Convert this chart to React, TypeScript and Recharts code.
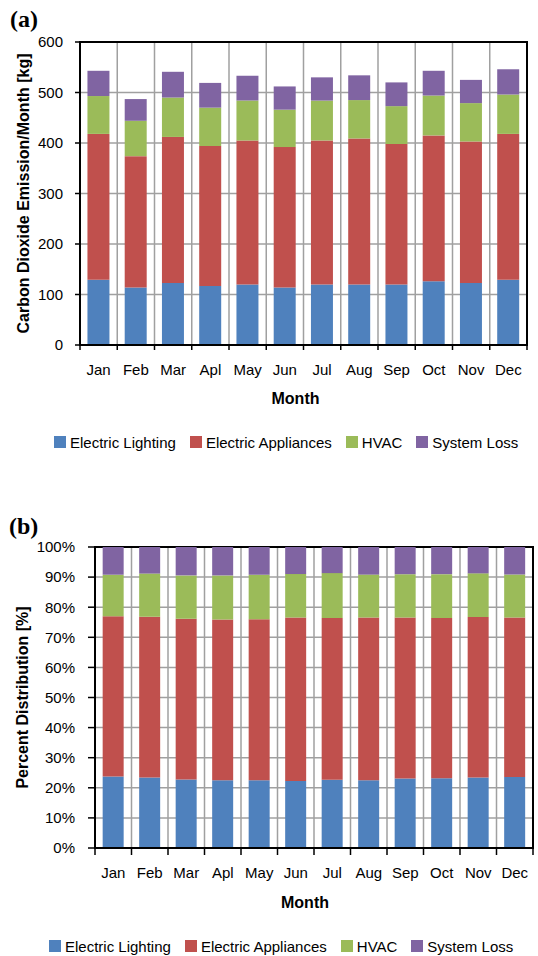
import React from 'react';
import { BarChart, Bar, XAxis, YAxis, CartesianGrid, Legend, ReferenceArea } from 'recharts';

const MONTHS = ['Jan', 'Feb', 'Mar', 'Apl', 'May', 'Jun', 'Jul', 'Aug', 'Sep', 'Oct', 'Nov', 'Dec'];

// monthly CO2 emission per end use [kg]
const LIGHTING = [129, 114, 123, 117, 120, 114, 120, 120, 120, 126, 123, 129];
const APPLIANCES = [289, 260, 289, 277, 285, 278, 285, 289, 278, 289, 280, 289];
const HVAC = [75, 70, 78, 76, 79, 74, 79, 76, 75, 79, 76, 78];
const SYSTEM_LOSS = [50, 43, 51, 49, 49, 46, 46, 49, 47, 49, 46, 50];

const KG_TICKS = [0, 100, 200, 300, 400, 500, 600];
const PCT_TICKS = [0, 0.1, 0.2, 0.3, 0.4, 0.5, 0.6, 0.7, 0.8, 0.9, 1];

const SERIES = [
  { key: 'lighting', name: 'Electric Lighting', color: '#4F81BD' },
  { key: 'appliances', name: 'Electric Appliances', color: '#C0504D' },
  { key: 'hvac', name: 'HVAC', color: '#9BBB59' },
  { key: 'loss', name: 'System Loss', color: '#8064A2' },
];

const rows = MONTHS.map((month, i) => ({
  month,
  lighting: LIGHTING[i],
  appliances: APPLIANCES[i],
  hvac: HVAC[i],
  loss: SYSTEM_LOSS[i],
}));

const W = 538;
const H = 478;
const FONT = "'Liberation Sans', Arial, sans-serif";
const LABEL_SIZE = 15;
const TITLE_SIZE = 16;
const GRID = '#a0a0a0';

// x tick: month name centred in the band, tick mark on the band's left edge
const monthTick = (tickLen: number, gap: number, band: number) => (props: any) => {
  const { x, y, payload, index } = props;
  const axisY = y - tickLen - gap;
  const left = x - band / 2;
  return (
    <g>
      <line x1={left} x2={left} y1={axisY} y2={axisY + tickLen} stroke="#000" strokeWidth={1.5} />
      {index === MONTHS.length - 1 && (
        <line x1={left + band} x2={left + band} y1={axisY} y2={axisY + tickLen} stroke="#000" strokeWidth={1.5} />
      )}
      <text x={x} y={y} dy="0.71em" textAnchor="middle" fontSize={LABEL_SIZE} fill="#000">
        {payload.value}
      </text>
    </g>
  );
};

const yTitle = (text: string, dx: number) => (props: any) => {
  const { x, y, height } = props.viewBox;
  const cx = x + dx;
  const cy = y + height / 2;
  return (
    <text x={cx} y={cy} transform={`rotate(-90 ${cx} ${cy})`} textAnchor="middle" dominantBaseline="central"
      fontSize={TITLE_SIZE} fontWeight="bold" fill="#000">
      {text}
    </text>
  );
};

const xTitle = (dy: number, dx: number) => (props: any) => {
  const { x, y, width } = props.viewBox;
  return (
    <text x={x + width / 2 + dx} y={y + dy} textAnchor="middle" dominantBaseline="central"
      fontSize={TITLE_SIZE} fontWeight="bold" fill="#000">
      Month
    </text>
  );
};

// legend keeps the series order rather than the sorted payload
const legendRow = (startX: number) => () => (
  <div style={{ display: 'flex', alignItems: 'center', height: 20, paddingLeft: startX, fontSize: LABEL_SIZE, color: '#000', whiteSpace: 'nowrap' }}>
    {SERIES.map((s) => (
      <span key={s.key} style={{ display: 'inline-flex', alignItems: 'center', marginRight: 14 }}>
        <span style={{ display: 'inline-block', width: 12, height: 12, background: s.color, marginRight: 4 }} />
        {s.name}
      </span>
    ))}
  </div>
);

const boundaries = (count: number) => ({ offset }: any) =>
  Array.from({ length: count + 1 }, (_, i) => offset.left + (i * offset.width) / count);

const pct = (v: number) => `${Math.round(v * 100)}%`;

export default function App() {
  const bandA = (W - 80 - 11) / MONTHS.length;
  const bandB = (W - 95 - 5) / MONTHS.length;

  return (
    <div style={{ position: 'absolute', left: 0, top: 0, width: W, height: 956, background: '#fff', fontFamily: FONT }}>
      <BarChart width={W} height={H} data={rows} margin={{ top: 42, right: 11, bottom: 26, left: 0 }} barCategoryGap="20%">
        <text x={10} y={27} fontFamily="'Liberation Serif', 'Times New Roman', serif" fontWeight="bold" fontSize={24} fill="#000">(a)</text>
        <CartesianGrid stroke={GRID} strokeWidth={1.5} verticalCoordinatesGenerator={boundaries(MONTHS.length)} />
        <ReferenceArea x1="Jan" x2="Dec" y1={0} y2={600} fill="none" stroke="#000" strokeWidth={2} ifOverflow="visible" />
        <XAxis dataKey="month" interval={0} height={87} tickLine={false} tickSize={5} tickMargin={14}
          axisLine={{ stroke: '#000', strokeWidth: 2 }} tick={monthTick(5, 14, bandA)} label={xTitle(53, -8)} />
        <YAxis width={80} domain={[0, 600]} ticks={KG_TICKS} tickSize={5} tickMargin={12}
          axisLine={{ stroke: '#000', strokeWidth: 2 }} tickLine={{ stroke: '#000', strokeWidth: 1.5 }}
          tick={{ fill: '#000', fontSize: LABEL_SIZE }} label={yTitle('Carbon Dioxide Emission/Month [kg]', 23)} />
        <Legend verticalAlign="bottom" wrapperStyle={{ left: 0, width: W }} content={legendRow(54)} />
        {SERIES.map((s) => (
          <Bar key={s.key} dataKey={s.key} name={s.name} stackId="a" fill={s.color} isAnimationActive={false} />
        ))}
      </BarChart>

      <BarChart width={W} height={H} data={rows} stackOffset="expand" margin={{ top: 69, right: 5, bottom: 0, left: 0 }} barCategoryGap="21%">
        <text x={9} y={56} fontFamily="'Liberation Serif', 'Times New Roman', serif" fontWeight="bold" fontSize={24} fill="#000">(b)</text>
        <CartesianGrid stroke={GRID} strokeWidth={1.5} verticalCoordinatesGenerator={boundaries(MONTHS.length)} />
        <ReferenceArea x1="Jan" x2="Dec" y1={0} y2={1} fill="none" stroke="#000" strokeWidth={2} ifOverflow="visible" />
        <XAxis dataKey="month" interval={0} height={88} tickLine={false} tickSize={7} tickMargin={12}
          axisLine={{ stroke: '#000', strokeWidth: 2 }} tick={monthTick(7, 12, bandB)} label={xTitle(54, -9)} />
        <YAxis width={95} domain={[0, 1]} ticks={PCT_TICKS} tickFormatter={pct} tickSize={7} tickMargin={13}
          axisLine={{ stroke: '#000', strokeWidth: 2 }} tickLine={{ stroke: '#000', strokeWidth: 1.5 }}
          tick={{ fill: '#000', fontSize: LABEL_SIZE }} label={yTitle('Percent Distribution [%]', 22)} />
        <Legend verticalAlign="bottom" wrapperStyle={{ left: 0, width: W }} content={legendRow(49)} />
        {SERIES.map((s) => (
          <Bar key={s.key} dataKey={s.key} name={s.name} stackId="a" fill={s.color} isAnimationActive={false} />
        ))}
      </BarChart>
    </div>
  );
}
